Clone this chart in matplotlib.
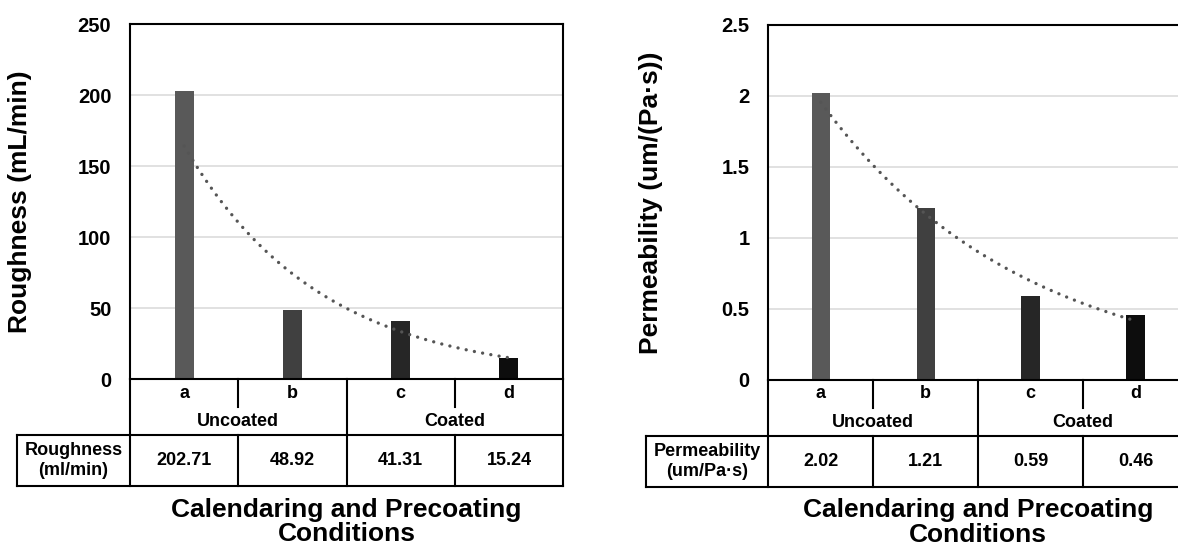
import matplotlib.pyplot as plt
import numpy as np

plt.rcParams["font.family"] = ["Liberation Sans", "DejaVu Sans"]
plt.rcParams["font.weight"] = "bold"

# data
CATEGORIES = ["a", "b", "c", "d"]
GROUPS = ["Uncoated", "Coated"]
ROUGHNESS = [202.71, 48.92, 41.31, 15.24]
PERMEABILITY = [2.02, 1.21, 0.59, 0.46]
ROUGH_TICKS = [0, 50, 100, 150, 200, 250]
ROUGH_TICK_LABELS = ["0", "50", "100", "150", "200", "250"]
PERM_TICKS = [0, 0.5, 1, 1.5, 2, 2.5]
PERM_TICK_LABELS = ["0", "0.5", "1", "1.5", "2", "2.5"]

BAR_COLORS = ["#595959", "#404040", "#262626", "#0d0d0d"]
TREND_COLOR = "#555555"
GRID_COLOR = "#d9d9d9"
XLABEL = "Calendaring and Precoating\nConditions"


def draw_panel(fig, rect, values, ticks, ticklabels, ylabel, row_label,
               table_left, ylabel_x):
    ax = fig.add_axes(rect)
    n = len(values)
    x = np.arange(n)

    ax.set_axisbelow(True)
    ax.yaxis.grid(True, color=GRID_COLOR, lw=1.1)
    ax.bar(x, values, width=0.175, color=BAR_COLORS, zorder=2)

    # Excel-style exponential trendline
    k = np.arange(1, n + 1)
    slope, icpt = np.polyfit(k, np.log(values), 1)
    xs = np.linspace(0, n - 1, 200)
    ax.plot(xs, np.exp(icpt + slope * (xs + 1)), color=TREND_COLOR, lw=2.4,
            linestyle=(0, (0.01, 2.5)), dash_capstyle="round", zorder=3)

    ax.set_xlim(-0.5, n - 0.5)
    ax.set_ylim(ticks[0], ticks[-1])
    ax.set_yticks(ticks, ticklabels)
    ax.set_xticks([])
    ax.tick_params(axis="y", length=0, pad=13.5, labelsize=14.5)
    for s in ax.spines.values():
        s.set_linewidth(1.5)
        s.set_color("black")

    ax.text(ylabel_x, 0.5, ylabel, transform=ax.transAxes, rotation=90,
            ha="center", va="center", fontsize=19)

    # category table under the axis
    y_cat, y_grp, y_bot = -0.078, -0.158, -0.3006
    w = 1.0 / n

    def line(xx, yy):
        ax.plot(xx, yy, transform=ax.transAxes, color="black", lw=1.5,
                clip_on=False, solid_capstyle="projecting")

    for xv in [0, 0.5, 1]:
        line([xv, xv], [0, y_bot])
    for xv in [0.25, 0.75]:
        line([xv, xv], [0, y_cat])
        line([xv, xv], [y_grp, y_bot])
    line([table_left, 1], [y_grp, y_grp])
    line([table_left, 1], [y_bot, y_bot])
    line([table_left, table_left], [y_grp, y_bot])

    y_val = (y_grp + y_bot) / 2
    for i, (c, v) in enumerate(zip(CATEGORIES, values)):
        ax.text((i + 0.5) * w, -0.0386, c, transform=ax.transAxes,
                ha="center", va="center", fontsize=13)
        ax.text((i + 0.5) * w, y_val, f"{v:.2f}", transform=ax.transAxes,
                ha="center", va="center", fontsize=13)
    for j, g in enumerate(GROUPS):
        ax.text(0.25 + 0.5 * j, -0.119, g, transform=ax.transAxes,
                ha="center", va="center", fontsize=13)
    ax.text(table_left / 2, y_val, row_label, transform=ax.transAxes,
            ha="center", va="center", fontsize=13)

    ax.text(0.5, -0.402, XLABEL, transform=ax.transAxes, ha="center",
            va="center", fontsize=19, linespacing=1.04)
    return ax


fig = plt.figure(figsize=(11.78, 5.48), dpi=100)

draw_panel(fig, [0.1104, 0.3078, 0.3676, 0.6478], ROUGHNESS, ROUGH_TICKS,
           ROUGH_TICK_LABELS, "Roughness (mL/min)", "Roughness\n(ml/min)",
           table_left=-0.261, ylabel_x=-0.254)
draw_panel(fig, [0.6522, 0.3066, 0.3563, 0.6478], PERMEABILITY, PERM_TICKS,
           PERM_TICK_LABELS, "Permeability (um/(Pa\u00b7s))",
           "Permeability\n(um/Pa\u00b7s)",
           table_left=-0.2914, ylabel_x=-0.2795)

fig.savefig("out.png", dpi=100)
